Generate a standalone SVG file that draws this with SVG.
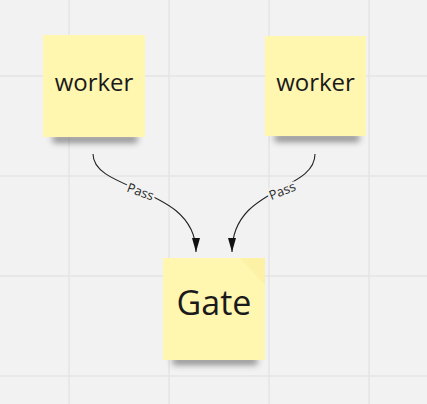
<svg xmlns="http://www.w3.org/2000/svg" width="427" height="404" viewBox="0 0 427 404">
<style>
.grid{stroke:#e5e5e5;stroke-width:1.5}
.note{fill:#fff6b0}
.lbl{font-family:"Open Sans","Noto Sans",sans-serif;fill:#1a1a1a;text-anchor:middle}
.edge{fill:none;stroke:#222;stroke-width:1.1}
.pass{font-family:"Open Sans","Noto Sans",sans-serif;font-size:13px;fill:#2a2a2a;text-anchor:middle;stroke:#f2f2f2;stroke-width:5;paint-order:stroke;stroke-linejoin:round}
</style>
<defs>
<filter id="sh" x="-30%" y="-100%" width="160%" height="300%"><feGaussianBlur stdDeviation="3"/></filter>
<marker id="ah" viewBox="0 0 14 8" refX="14" refY="4" markerWidth="14" markerHeight="8" markerUnits="userSpaceOnUse" orient="auto">
<path d="M0,0 L14,4 L0,8 Z" fill="#111"/>
</marker>
</defs>
<rect width="427" height="404" fill="#f2f2f2"/>
<g id="grid">
<line class="grid" x1="69" y1="0" x2="69" y2="404"/>
<line class="grid" x1="169" y1="0" x2="169" y2="404"/>
<line class="grid" x1="269" y1="0" x2="269" y2="404"/>
<line class="grid" x1="369" y1="0" x2="369" y2="404"/>
<line class="grid" x1="0" y1="76" x2="427" y2="76"/>
<line class="grid" x1="0" y1="176" x2="427" y2="176"/>
<line class="grid" x1="0" y1="276" x2="427" y2="276"/>
<line class="grid" x1="0" y1="376" x2="427" y2="376"/>
</g>
<g id="worker1">
<rect x="52" y="135" width="86" height="8" rx="4" fill="#333" opacity="0.5" filter="url(#sh)"/>
<rect class="note" x="43" y="35" width="102" height="102"/>
<text class="lbl" x="94" y="91" font-size="24">worker</text>
</g>
<g id="worker2">
<rect x="274" y="134" width="86" height="8" rx="4" fill="#333" opacity="0.5" filter="url(#sh)"/>
<rect class="note" x="265" y="36" width="101" height="100"/>
<text class="lbl" x="315.5" y="91" font-size="24">worker</text>
</g>
<g id="gate">
<rect x="172" y="357" width="86" height="8" rx="4" fill="#333" opacity="0.5" filter="url(#sh)"/>
<rect class="note" x="163" y="258" width="102" height="102"/>
<path d="M240,258 L265,258 L265,285 Z" fill="#fbefa0" opacity="0.6"/>
<text class="lbl" x="214" y="315" font-size="34">Gate</text>
</g>
<g id="connectors">
<path class="edge" d="M93,154 C93,192 196,186 196,252" marker-end="url(#ah)"/>
<text class="pass" transform="translate(139,196) rotate(20)">Pass</text>
<path class="edge" d="M315,154 C315,192 232,186 232,252" marker-end="url(#ah)"/>
<text class="pass" transform="translate(284,195) rotate(-22)">Pass</text>
</g>
</svg>
